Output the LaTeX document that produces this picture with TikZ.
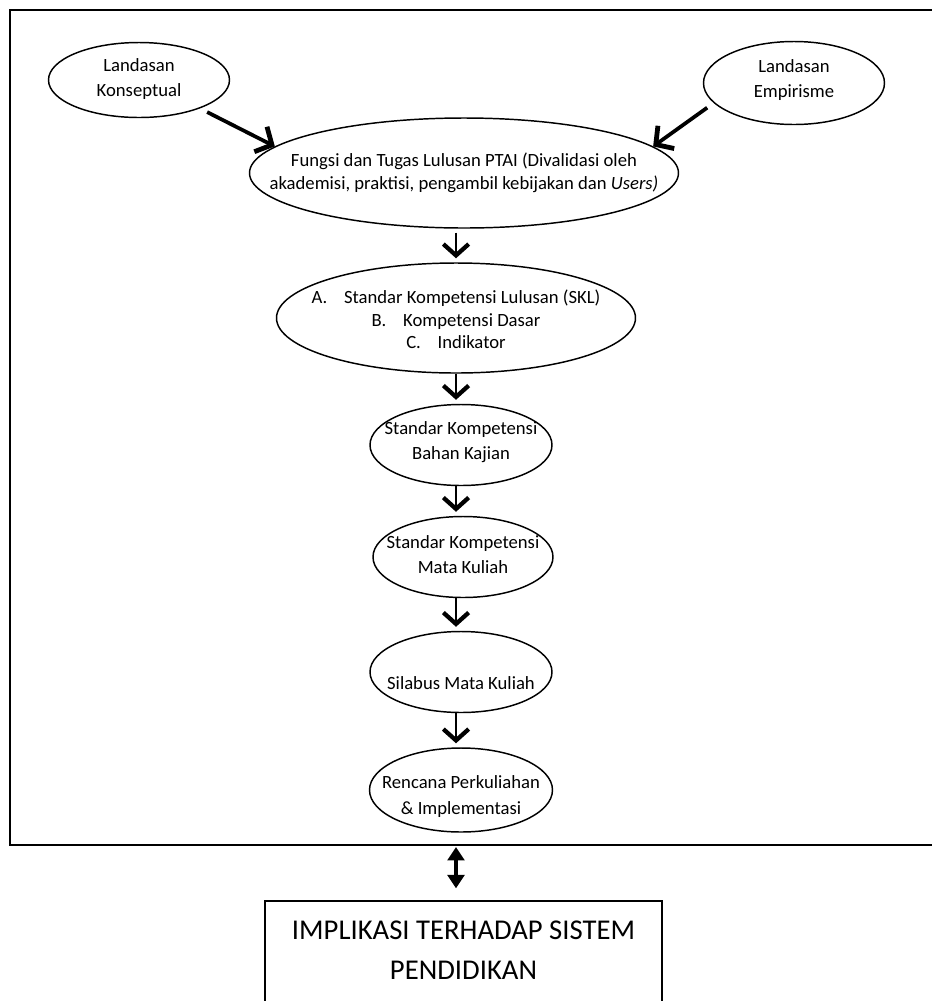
\documentclass[tikz,border=0pt]{standalone}
\usepackage{fontspec}
\setmainfont{Carlito}
\usetikzlibrary{shapes.geometric, positioning, arrows.meta}

\begin{document}
\begin{tikzpicture}[x=0.75pt,y=-0.75pt,
        ell/.style={ellipse,draw,line width=1.1pt,inner sep=0pt},
        txt/.style={align=center,inner sep=0pt,font=\fontsize{14}{19}\selectfont},
        txtsm/.style={align=center,inner sep=0pt,font=\fontsize{14}{17}\selectfont},
        flow/.style={line width=2.2pt,shorten >=3pt,
          -{Straight Barb[length=8.5pt,width=19pt,line width=3.2pt]}},
        slant/.style={line width=2.8pt,shorten <=6pt,
          -{Straight Barb[length=9.5pt,width=21pt,line width=3.6pt]}}]
        \useasboundingbox (0,0) rectangle (932,1001);
        % frame and boxes
        \draw[line width=2pt] (932,10) -- (10,10) -- (10,845) -- (932,845);
        \coordinate (framebot) at (456,845);
        \node[draw,line width=1.1pt,inner sep=0pt,minimum width=297.75pt,minimum height=97.5pt,
          label={[align=center,inner sep=0pt,anchor=north,yshift=-15.5pt,font=\fontsize{21.5}{30}\selectfont]north:IMPLIKASI TERHADAP SISTEM\\PENDIDIKAN}] (implikasi) at (463.5,966) {};
        % ellipses
        \node[ell,minimum width=135.75pt,minimum height=56.25pt,
          label={[txt,yshift=0.5pt]center:Landasan\\Konseptual}] (konsep) at (139,80) {};
        \node[ell,minimum width=135.75pt,minimum height=62.25pt,
          label={[txt,yshift=2pt]center:Landasan\\Empirisme}] (empiris) at (794,83) {};
        \node[ell,minimum width=321.75pt,minimum height=82.5pt,
          label={[txtsm,yshift=0pt]center:Fungsi dan Tugas Lulusan PTAI (Divalidasi oleh\\akademisi, praktisi, pengambil kebijakan dan \textit{Users)}}] (fungsi) at (464,173) {};
        \node[ell,minimum width=269.25pt,minimum height=82.5pt,
          label={[txtsm,yshift=-1pt]center:A.\hspace{0.9em}Standar Kompetensi Lulusan (SKL)\\B.\hspace{0.9em}Kompetensi Dasar\\C.\hspace{0.9em}Indikator}] (skl) at (456,318) {};
        \node[ell,minimum width=136.5pt,minimum height=60.75pt,
          label={[txt,yshift=2pt]center:Standar Kompetensi\\Bahan Kajian}] (bahan) at (461,445) {};
        \node[ell,minimum width=135pt,minimum height=60.75pt,
          label={[txt,yshift=2pt]center:Standar Kompetensi\\Mata Kuliah}] (matkul) at (463,557) {};
        \node[ell,minimum width=136.5pt,minimum height=60.75pt,
          label={[txt,yshift=-8pt]center:Silabus Mata Kuliah}] (silabus) at (461,672) {};
        \node[ell,minimum width=137.25pt,minimum height=63pt,
          label={[txt,yshift=-5pt]center:Rencana Perkuliahan\\\& Implementasi}] (rencana) at (461,790) {};
        % connectors
        \path[slant]
        (konsep.-25) edge (fungsi.172)
        (empiris.194) edge (fungsi.8);
        \path[flow]
        (fungsi.south -| skl) edge [shorten <=3pt] (skl.north)
        (skl.south) edge (bahan.north -| skl)
        (bahan.south -| skl) edge (matkul.north -| skl)
        (matkul.south -| skl) edge (silabus.north -| skl)
        (silabus.south -| skl) edge (rencana.north -| skl);
        \draw[line width=2.4pt,shorten <=1.5pt,shorten >=9pt,
          {Triangle[length=10pt,width=12.5pt]}-{Triangle[length=10pt,width=12.5pt]}]
        (framebot) -- (implikasi.north -| skl);
      \end{tikzpicture}
\end{document}
